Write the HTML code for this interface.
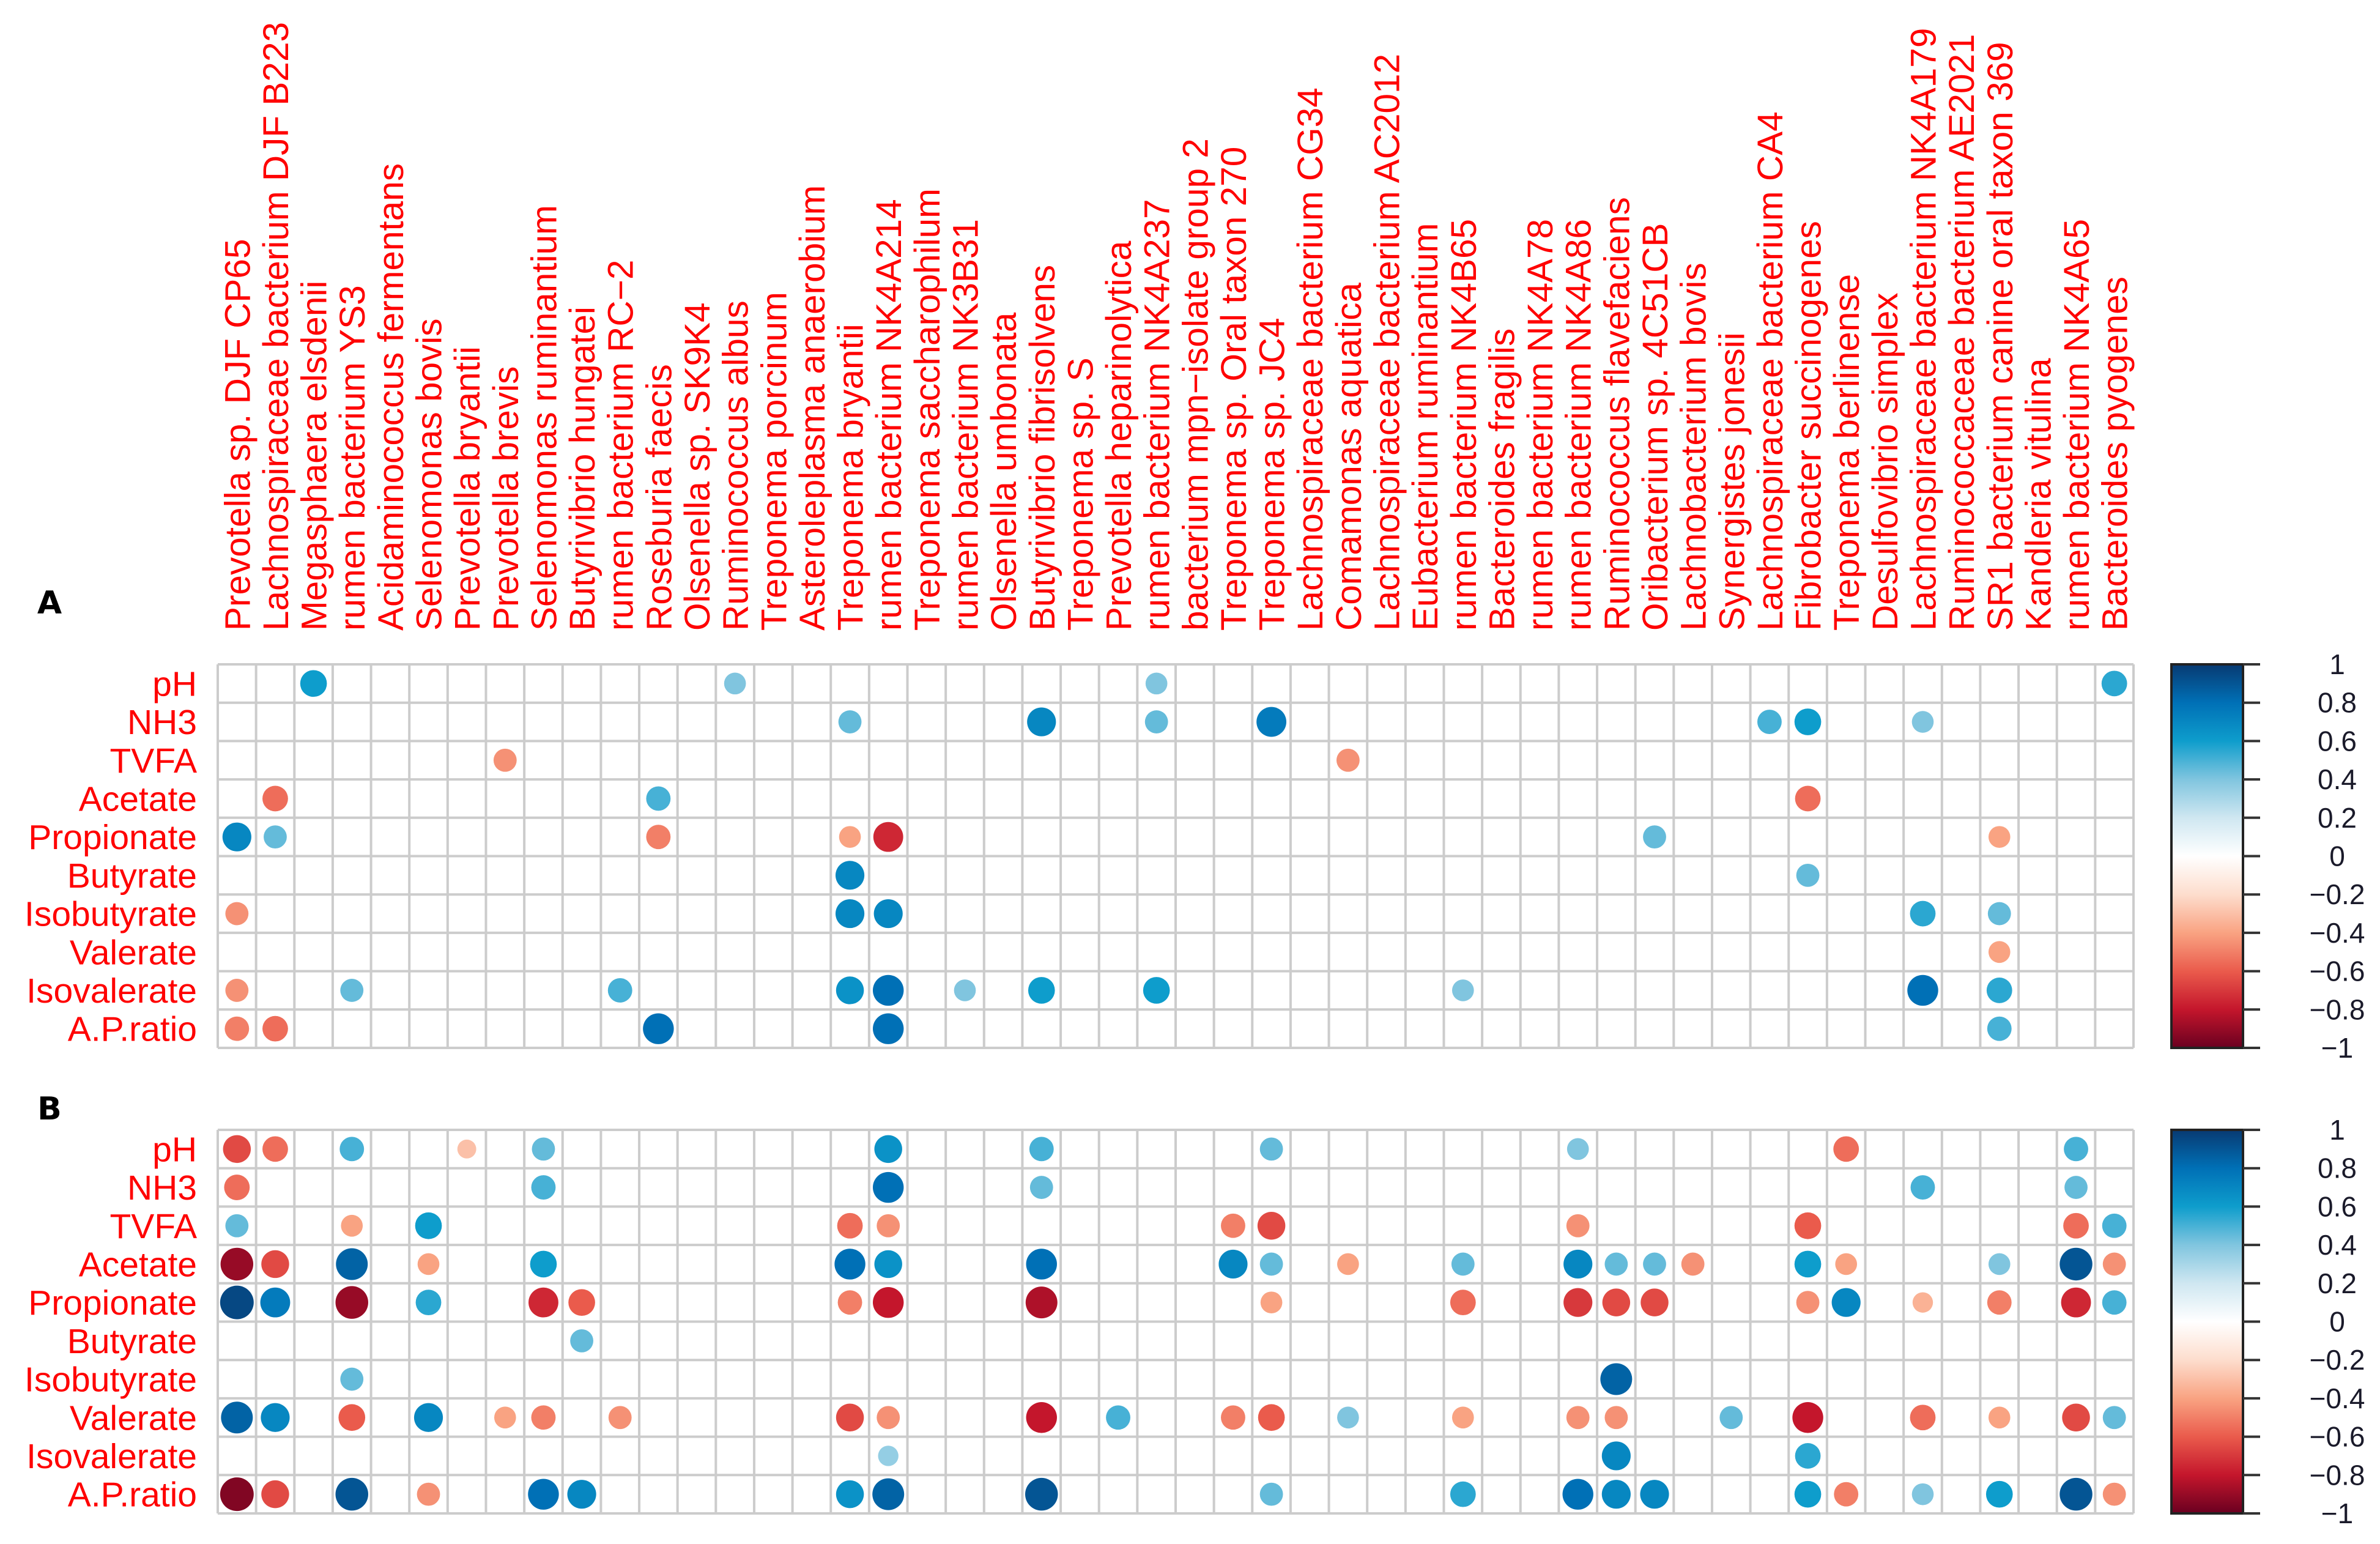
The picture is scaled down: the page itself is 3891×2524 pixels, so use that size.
<!DOCTYPE html>
<html><head><meta charset="utf-8"><style>
html,body{margin:0;padding:0;background:#fff;}
svg{display:block;font-family:"Liberation Sans",Arial,sans-serif;}
</style></head><body>
<svg id="chart" xmlns="http://www.w3.org/2000/svg" width="3891" height="2524" viewBox="0 0 3891 2524">
<rect x="0" y="0" width="3891" height="2524" fill="#fff"/>
<g id="collabels"></g>
<text x="81" y="1003" font-size="52" font-weight="bold" font-family="'DejaVu Sans','Liberation Sans',sans-serif" fill="#000" text-anchor="middle">A</text>
<text x="81" y="1830" font-size="52" font-weight="bold" font-family="'DejaVu Sans','Liberation Sans',sans-serif" fill="#000" text-anchor="middle">B</text>
<g id="panelA"></g>
<g id="panelB"></g>
</svg>
<script>
const rowLabels = ["pH","NH3","TVFA","Acetate","Propionate","Butyrate","Isobutyrate","Valerate","Isovalerate","A.P.ratio"];
const colLabels = ["Prevotella sp. DJF CP65","Lachnospiraceae bacterium DJF B223","Megasphaera elsdenii","rumen bacterium YS3","Acidaminococcus fermentans","Selenomonas bovis","Prevotella bryantii","Prevotella brevis","Selenomonas ruminantium","Butyrivibrio hungatei","rumen bacterium RC\u22122","Roseburia faecis","Olsenella sp. SK9K4","Ruminococcus albus","Treponema porcinum","Asteroleplasma anaerobium","Treponema bryantii","rumen bacterium NK4A214","Treponema saccharophilum","rumen bacterium NK3B31","Olsenella umbonata","Butyrivibrio fibrisolvens","Treponema sp. S","Prevotella heparinolytica","rumen bacterium NK4A237","bacterium mpn\u2212isolate group 2","Treponema sp. Oral taxon 270","Treponema sp. JC4","Lachnospiraceae bacterium CG34","Comamonas aquatica","Lachnospiraceae bacterium AC2012","Eubacterium ruminantium","rumen bacterium NK4B65","Bacteroides fragilis","rumen bacterium NK4A78","rumen bacterium NK4A86","Ruminococcus flavefaciens","Oribacterium sp. 4C51CB","Lachnobacterium bovis","Synergistes jonesii","Lachnospiraceae bacterium CA4","Fibrobacter succinogenes","Treponema berlinense","Desulfovibrio simplex","Lachnospiraceae bacterium NK4A179","Ruminococcaceae bacterium AE2021","SR1 bacterium canine oral taxon 369","Kandleria vitulina","rumen bacterium NK4A65","Bacteroides pyogenes"];
// [column number (1-based), row label, correlation]
const panelACells = [
[1,"Propionate",0.7],[1,"Isobutyrate",-0.45],[1,"Isovalerate",-0.45],[1,"A.P.ratio",-0.5],
[2,"Acetate",-0.55],[2,"Propionate",0.45],[2,"A.P.ratio",-0.55],
[3,"pH",0.6],[4,"Isovalerate",0.45],[8,"TVFA",-0.45],[11,"Isovalerate",0.5],
[12,"Acetate",0.5],[12,"Propionate",-0.5],[12,"A.P.ratio",0.8],[14,"pH",0.4],
[17,"NH3",0.45],[17,"Propionate",-0.4],[17,"Butyrate",0.7],[17,"Isobutyrate",0.7],[17,"Isovalerate",0.65],
[18,"Propionate",-0.75],[18,"Isobutyrate",0.7],[18,"Isovalerate",0.8],[18,"A.P.ratio",0.8],
[20,"Isovalerate",0.4],[22,"NH3",0.7],[22,"Isovalerate",0.6],
[25,"pH",0.4],[25,"NH3",0.45],[25,"Isovalerate",0.6],[28,"NH3",0.75],[30,"TVFA",-0.45],[33,"Isovalerate",0.4],
[38,"Propionate",0.45],[41,"NH3",0.5],[42,"NH3",0.6],[42,"Acetate",-0.55],[42,"Butyrate",0.45],
[45,"NH3",0.4],[45,"Isobutyrate",0.55],[45,"Isovalerate",0.8],
[47,"Propionate",-0.4],[47,"Isobutyrate",0.45],[47,"Valerate",-0.4],[47,"Isovalerate",0.55],[47,"A.P.ratio",0.5],
[50,"pH",0.55]
];
const panelBCells = [
[1,"pH",-0.65],[1,"NH3",-0.55],[1,"TVFA",0.45],[1,"Acetate",-0.9],[1,"Propionate",0.95],[1,"Valerate",0.85],[1,"A.P.ratio",-0.95],
[2,"pH",-0.55],[2,"Acetate",-0.65],[2,"Propionate",0.75],[2,"Valerate",0.7],[2,"A.P.ratio",-0.65],
[4,"pH",0.5],[4,"TVFA",-0.4],[4,"Acetate",0.85],[4,"Propionate",-0.9],[4,"Isobutyrate",0.45],[4,"Valerate",-0.6],[4,"A.P.ratio",0.9],
[6,"TVFA",0.6],[6,"Acetate",-0.4],[6,"Propionate",0.55],[6,"Valerate",0.7],[6,"A.P.ratio",-0.45],
[7,"pH",-0.3],[8,"Valerate",-0.4],
[9,"pH",0.45],[9,"NH3",0.5],[9,"Acetate",0.6],[9,"Propionate",-0.75],[9,"Valerate",-0.5],[9,"A.P.ratio",0.8],
[10,"Propionate",-0.6],[10,"Butyrate",0.45],[10,"A.P.ratio",0.7],[11,"Valerate",-0.45],
[17,"TVFA",-0.55],[17,"Acetate",0.8],[17,"Propionate",-0.5],[17,"Valerate",-0.65],[17,"A.P.ratio",0.65],
[18,"pH",0.65],[18,"NH3",0.8],[18,"TVFA",-0.45],[18,"Acetate",0.65],[18,"Propionate",-0.8],[18,"Valerate",-0.45],[18,"Isovalerate",0.35],[18,"A.P.ratio",0.85],
[22,"pH",0.5],[22,"NH3",0.45],[22,"Acetate",0.8],[22,"Propionate",-0.85],[22,"Valerate",-0.8],[22,"A.P.ratio",0.9],
[24,"Valerate",0.5],[27,"TVFA",-0.5],[27,"Acetate",0.7],[27,"Valerate",-0.5],
[28,"pH",0.45],[28,"TVFA",-0.65],[28,"Acetate",0.45],[28,"Propionate",-0.4],[28,"Valerate",-0.6],[28,"A.P.ratio",0.45],
[30,"Acetate",-0.4],[30,"Valerate",0.4],
[33,"Acetate",0.45],[33,"Propionate",-0.55],[33,"Valerate",-0.4],[33,"A.P.ratio",0.55],
[36,"pH",0.4],[36,"TVFA",-0.45],[36,"Acetate",0.7],[36,"Propionate",-0.7],[36,"Valerate",-0.45],[36,"A.P.ratio",0.8],
[37,"Acetate",0.45],[37,"Propionate",-0.65],[37,"Isobutyrate",0.85],[37,"Valerate",-0.45],[37,"Isovalerate",0.7],[37,"A.P.ratio",0.7],
[38,"Acetate",0.45],[38,"Propionate",-0.65],[38,"A.P.ratio",0.7],[39,"Acetate",-0.45],[40,"Valerate",0.45],
[42,"TVFA",-0.6],[42,"Acetate",0.6],[42,"Propionate",-0.45],[42,"Valerate",-0.8],[42,"Isovalerate",0.55],[42,"A.P.ratio",0.6],
[43,"pH",-0.55],[43,"Acetate",-0.4],[43,"Propionate",0.7],[43,"A.P.ratio",-0.5],
[45,"NH3",0.5],[45,"Propionate",-0.35],[45,"Valerate",-0.55],[45,"A.P.ratio",0.4],
[47,"Acetate",0.4],[47,"Propionate",-0.5],[47,"Valerate",-0.4],[47,"A.P.ratio",0.6],
[49,"pH",0.5],[49,"NH3",0.45],[49,"TVFA",-0.55],[49,"Acetate",0.9],[49,"Propionate",-0.75],[49,"Valerate",-0.65],[49,"A.P.ratio",0.9],
[50,"TVFA",0.5],[50,"Acetate",-0.45],[50,"Propionate",0.5],[50,"Valerate",0.45],[50,"A.P.ratio",-0.45]
];
const colorbarTicks = [1,0.8,0.6,0.4,0.2,0,-0.2,-0.4,-0.6,-0.8,-1];
const paletteStops = ["#6A0020","#C4162C","#EA5B4C","#F9A382","#FDDDCD","#FFFFFF","#CFE7F1","#80C5DF","#0E9DCC","#0070B6","#083A72"];

const NS = "http://www.w3.org/2000/svg";
const gridLeft = 356, gridRight = 3488;
const cellW = (gridRight - gridLeft) / colLabels.length;
const panelTops = {A:1086, B:1847};
const cellH = 62.7;
const cbLeft = 3550, cbRight = 3667, tickEnd = 3695;

function mk(tag, attrs, parent){const e=document.createElementNS(NS,tag);for(const k in attrs)e.setAttribute(k,attrs[k]);parent.appendChild(e);return e;}
function hex(h){return [1,3,5].map(i=>parseInt(h.substr(i,2),16));}
function colorOf(v){
  const t=(v+1)/2*(paletteStops.length-1);const i=Math.min(paletteStops.length-2,Math.floor(t));const f=t-i;
  const a=hex(paletteStops[i]),b=hex(paletteStops[i+1]);
  return "rgb("+a.map((x,k)=>Math.round(x+(b[k]-x)*f)).join(",")+")";
}
function xCenter(col){return gridLeft+(col-0.5)*cellW;}
function yCenter(top,row){return top+(rowLabels.indexOf(row)+0.5)*cellH;}

// column labels
const cl=document.getElementById('collabels');
colLabels.forEach((lab,i)=>{
  const x=xCenter(i+1)+21, y=1031;
  const t=mk('text',{x:x,y:y,transform:`rotate(-90 ${x} ${y})`,'font-size':58.5,fill:'#ff0000'},cl);
  
  
  t.textContent=lab;
});

function drawPanel(key,cells){
  const g=document.getElementById('panel'+key);
  const top=panelTops[key], bottom=top+cellH*rowLabels.length;
  rowLabels.forEach((r,i)=>{
    const t=mk('text',{x:322,y:top+(i+0.5)*cellH+20,'font-size':57,fill:'#ff0000','text-anchor':'end'},g);
    
    
    t.textContent=r;
  });
  const grid=mk('g',{stroke:'#cccccc','stroke-width':4,fill:'none'},g);
  
  
  for(let c=0;c<=colLabels.length;c++){const x=gridLeft+c*cellW;mk('line',{x1:x,y1:top,x2:x,y2:bottom},grid);}
  for(let r=0;r<=rowLabels.length;r++){const y=top+r*cellH;mk('line',{x1:gridLeft,y1:y,x2:gridRight,y2:y},grid);}
  cells.forEach(([col,row,v])=>{
    const c=mk('circle',{cx:xCenter(col),cy:yCenter(top,row),r:Math.sqrt(Math.abs(v))*0.45*cellW,fill:colorOf(v)},g);
    
    
  });
  // colorbar
  const cbH=bottom-top;
  const gid='grad'+key;
  const defs=mk('defs',{},g);
  const lg=mk('linearGradient',{id:gid,x1:0,y1:1,x2:0,y2:0},defs);
  paletteStops.forEach((s,i)=>mk('stop',{offset:i/(paletteStops.length-1),'stop-color':s},lg));
  const bar=mk('rect',{x:cbLeft,y:top,width:cbRight-cbLeft,height:cbH,fill:`url(#${gid})`,stroke:'#222','stroke-width':4},g);
  
  
  colorbarTicks.forEach(v=>{
    const y=top+(1-v)/2*cbH;
    const tk=mk('line',{x1:cbRight,y1:y,x2:tickEnd,y2:y,stroke:'#333','stroke-width':4},g);
    
    
    const t=mk('text',{x:3821,y:y+16,'font-size':46,fill:'#1a1a2a','text-anchor':'middle'},g);
    
    
    t.textContent=(v<0?'\u2212':'')+String(Math.abs(v));
  });
}
drawPanel('A',panelACells);
drawPanel('B',panelBCells);
</script>
</body></html>
